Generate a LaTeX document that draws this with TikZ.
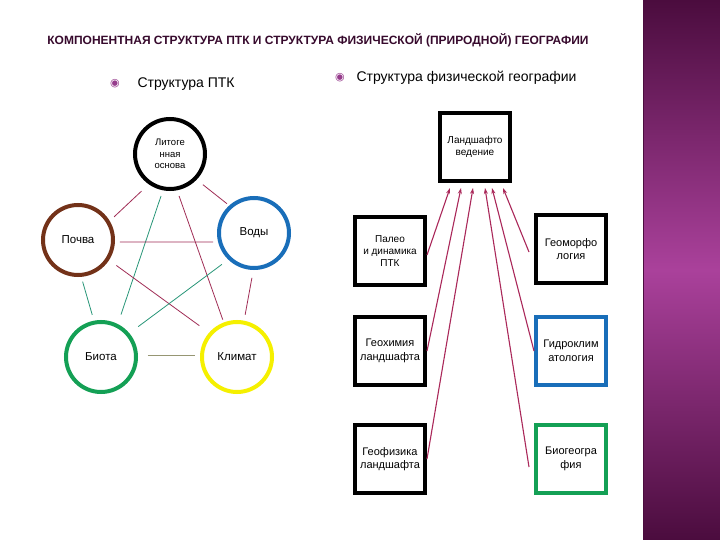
\documentclass[tikz,border=0pt]{standalone}
\usepackage{fontspec}
\setmainfont{Liberation Sans}
\newfontfamily\symfont{DejaVu Sans}
\usetikzlibrary{arrows.meta}

\definecolor{titlecol}{RGB}{55,10,45}
\definecolor{bulletcol}{RGB}{150,60,140}
\definecolor{linkred}{RGB}{160,45,85}
\definecolor{linkteal}{RGB}{40,150,120}
\definecolor{linkolive}{RGB}{150,150,115}
\definecolor{arrowcol}{RGB}{170,40,90}
\definecolor{soilbrown}{RGB}{115,50,25}
\definecolor{waterblue}{RGB}{25,110,185}
\definecolor{biogreen}{RGB}{20,160,85}
\definecolor{climyellow}{RGB}{245,240,0}
\definecolor{bandtop}{RGB}{75,12,62}
\definecolor{bandmid}{RGB}{170,65,155}

\begin{document}
\begin{tikzpicture}[x=1pt, y=-1pt,
    comp/.style={circle, draw, line width=4pt, minimum size=70pt, inner sep=0pt, align=center, font=\fontsize{11.5}{13}\selectfont},
    branch/.style={draw, line width=4pt, minimum width=70pt, minimum height=68pt, inner sep=1pt, align=center, font=\fontsize{11}{13.5}\selectfont},
    link/.style={line width=0.8pt},
    feed/.style={-{Stealth[length=6pt,width=4pt]}, line width=1.1pt, arrowcol}]
        \useasboundingbox (0,0) rectangle (720,540);
        \fill[white] (0,0) rectangle (720,540);
        % Side band
        \fill[top color=bandtop, bottom color=bandtop, middle color=bandmid] (643,0) rectangle (720,540);
        \draw[bandtop, line width=1pt] (643.5,0) -- (643.5,540);

        % Title and headings
        \node[font=\bfseries\fontsize{12}{14}\selectfont, text=titlecol] (title) at (318,40) {КОМПОНЕНТНАЯ СТРУКТУРА ПТК И СТРУКТУРА ФИЗИЧЕСКОЙ (ПРИРОДНОЙ) ГЕОГРАФИИ};
        \node[text=bulletcol, font=\symfont\fontsize{11}{12}\selectfont] (bulptk) at (115,84) {◉};
        \node[anchor=west, font=\fontsize{14}{16}\selectfont] (hdrptk) at (134,84) {Структура ПТК};
        \node[text=bulletcol, font=\symfont\fontsize{11}{12}\selectfont] (bulgeo) at (340,78) {◉};
        \node[anchor=west, font=\fontsize{14}{16}\selectfont] (hdrgeo) at (353,78) {Структура физической географии};

        % Components of the PTK
        \node[comp, font=\fontsize{9.5}{11.5}\selectfont] (lit) at (170,154) {Литоге\\нная\\основа};
        \node[comp, draw=soilbrown] (pochva) at (78,240) {Почва};
        \node[comp, draw=waterblue] (vody) at (254,233) {Воды};
        \node[comp, draw=biogreen] (biota) at (101,357) {Биота};
        \node[comp, draw=climyellow] (klimat) at (237,357) {Климат};

        % Links between components
        \draw[link, linkred, shorten <=10pt, shorten >=6pt] (lit.235) -- (pochva.31);
        \draw[link, linkteal, shorten <=6pt, shorten >=10pt] (lit.259) -- (biota.63);
        \draw[link, linkred, shorten <=6pt, shorten >=3pt] (lit.281) -- (klimat.111);
        \draw[link, linkred, shorten <=8pt, shorten >=3pt] (lit.316) -- (vody.132);
        \draw[link, linkred, shorten <=5pt, shorten >=5pt] (vody.194) -- (pochva.357);
        \draw[link, linkred, shorten <=9pt, shorten >=12pt] (pochva.327) -- (klimat.139);
        \draw[link, linkteal, shorten <=8pt, shorten >=11pt] (vody.226) -- (biota.40);
        \draw[link, linkred, shorten <=8pt, shorten >=6pt] (vody.269) -- (klimat.79);
        \draw[link, linkteal, shorten <=5pt, shorten >=6pt] (pochva.275) -- (biota.101);
        \draw[link, linkolive, shorten <=10pt, shorten >=5pt] (biota.2) -- (klimat.178);

        % Branches of physical geography
        \node[branch, font=\fontsize{10}{12}\selectfont] (landsc) at (475,147) {Ландшафто\\ведение};
        \node[branch, font=\fontsize{10}{12}\selectfont] (paleo) at (390,251) {Палео\\и динамика\\ПТК};
        \node[branch] (geomorph) at (571,249) {Геоморфо\\логия};
        \node[branch] (geochem) at (390,351) {Геохимия\\ландшафта};
        \node[branch, draw=waterblue] (hydro) at (571,351) {Гидроклим\\атология};
        \node[branch] (geophys) at (390,459) {Геофизика\\ландшафта};
        \node[branch, draw=biogreen] (biogeo) at (571,459) {Биогеогра\\фия};

        % Arrows to landscape science
        \draw[feed] ([yshift=-4pt]paleo.east) -- ([xshift=-25pt,yshift=-5pt]landsc.south);
        \draw[feed] (geochem.east) -- ([xshift=-14pt,yshift=-5pt]landsc.south);
        \draw[feed] (geophys.east) -- ([xshift=-2pt,yshift=-5pt]landsc.south);
        \draw[feed] ([xshift=-5pt,yshift=-8pt]biogeo.west) -- ([xshift=10pt,yshift=-5pt]landsc.south);
        \draw[feed] (hydro.west) -- ([xshift=17pt,yshift=-5pt]landsc.south);
        \draw[feed] ([xshift=-5pt,yshift=-3pt]geomorph.west) -- ([xshift=28pt,yshift=-5pt]landsc.south);
\end{tikzpicture}
\end{document}
